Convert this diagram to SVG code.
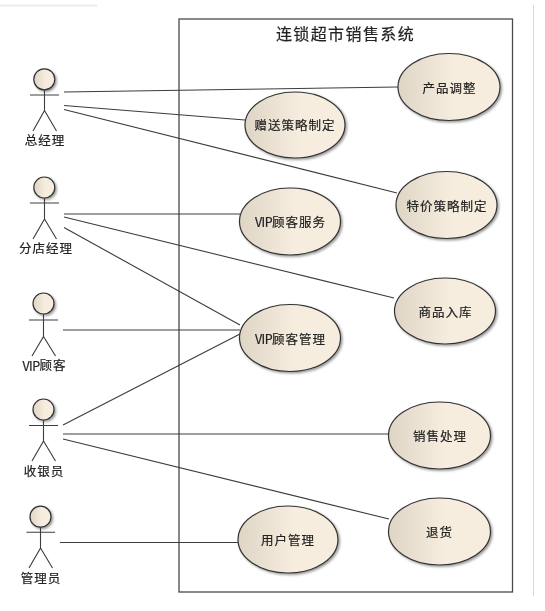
<svg xmlns="http://www.w3.org/2000/svg" width="545" height="611" viewBox="0 0 545 611">
<style>
text{font-family:"Noto Sans CJK SC","Liberation Sans",sans-serif;fill:#222;stroke:#222;stroke-width:.2;text-anchor:middle;dominant-baseline:central}
.t{font-size:12.5px;letter-spacing:1px}
.a{font-size:12.5px;letter-spacing:1px}
.v{letter-spacing:-.6px}
.title{font-size:16px;letter-spacing:1.4px}
.c line{stroke:#3c3c3c;stroke-width:1.1;fill:none}
.u ellipse{fill:url(#g);stroke:#333;stroke-width:1.2;filter:url(#s)}
.h{fill:url(#g);stroke:#333;stroke-width:1.2;filter:url(#s)}
.b{stroke:#3c3c3c;stroke-width:1.1;fill:none}
</style>
<defs>
<linearGradient id="g" x1="0" x2="1" y1="0" y2="0"><stop offset="0" stop-color="#dfd5c5"/><stop offset=".55" stop-color="#f6eddf"/><stop offset="1" stop-color="#f6eddf"/></linearGradient>
<filter id="s" x="-15%" y="-15%" width="135%" height="135%"><feDropShadow dx="1.5" dy="1.5" stdDeviation="1" flood-color="#000" flood-opacity=".4"/></filter>
<filter id="bl"><feGaussianBlur stdDeviation="0.3"/></filter>
</defs>
<rect width="545" height="611" fill="#fff"/>
<rect x="0" y="4.5" width="97" height="2" fill="#ececec"/>
<rect x="533" y="5" width="1" height="591" fill="#d8d8d8"/>
<g filter="url(#bl)">
<g id="boundary"><rect x="179" y="19" width="333.5" height="573" fill="none" stroke="#4a4a4a" stroke-width="1.3"/>
<text class="title" x="345.5" y="33">连锁超市销售系统</text></g>
<g id="connectors" class="c">
<line x1="64" y1="92" x2="398" y2="87"/>
<line x1="64" y1="105.5" x2="245" y2="120"/>
<line x1="64" y1="109.5" x2="397" y2="193"/>
<line x1="64" y1="214" x2="240" y2="214"/>
<line x1="64" y1="217" x2="394" y2="298"/>
<line x1="64" y1="227.5" x2="240" y2="325"/>
<line x1="63" y1="330" x2="240" y2="330"/>
<line x1="63" y1="425" x2="240" y2="334"/>
<line x1="63" y1="434" x2="389" y2="434"/>
<line x1="63" y1="439" x2="389" y2="519"/>
<line x1="60" y1="542.5" x2="238" y2="542.5"/>
</g>
<g id="uc1" class="u"><ellipse cx="449" cy="87" rx="51" ry="33.5"/><text class="t" x="449.5" y="87">产品调整</text></g>
<g id="uc2" class="u"><ellipse cx="295" cy="125" rx="50" ry="33"/><text class="t" x="295" y="124.5">赠送策略制定</text></g>
<g id="uc3" class="u"><ellipse cx="446.5" cy="205" rx="50.5" ry="33.5"/><text class="t" x="447" y="205.5">特价策略制定</text></g>
<g id="uc4" class="u"><ellipse cx="290" cy="221.5" rx="50.5" ry="33.5"/><text class="t" x="290.5" y="221"><tspan class="v">VIP</tspan>顾客服务</text></g>
<g id="uc5" class="u"><ellipse cx="445" cy="311" rx="50.5" ry="33"/><text class="t" x="445.5" y="311">商品入库</text></g>
<g id="uc6" class="u"><ellipse cx="290" cy="338" rx="50.5" ry="33.5"/><text class="t" x="290.5" y="338"><tspan class="v">VIP</tspan>顾客管理</text></g>
<g id="uc7" class="u"><ellipse cx="439.5" cy="435.5" rx="51" ry="33.5"/><text class="t" x="440" y="435.5">销售处理</text></g>
<g id="uc8" class="u"><ellipse cx="439.5" cy="531.5" rx="51" ry="33.5"/><text class="t" x="439.5" y="531.5">退货</text></g>
<g id="uc9" class="u"><ellipse cx="288" cy="539.5" rx="50" ry="33.5"/><text class="t" x="288" y="539.5">用户管理</text></g>
<g id="a1"><circle class="h" cx="44.3" cy="79.3" r="10.5"/><path class="b" d="M30 95H59M44.5 90V110.5L33 131M44.5 110.5L56.5 131"/><text class="a" x="45" y="139.5">总经理</text></g>
<g id="a2"><circle class="h" cx="44.3" cy="187.5" r="10.5"/><path class="b" d="M30 203H59M44.5 198V219L33 239M44.5 219L56.5 239"/><text class="a" x="46" y="247">分店经理</text></g>
<g id="a3"><circle class="h" cx="43.5" cy="303.5" r="10.5"/><path class="b" d="M29 320H58M43.5 314V336.5L32 356M43.5 336.5L55.5 356"/><text class="a" x="44.5" y="364.5"><tspan class="v">VIP</tspan>顾客</text></g>
<g id="a4"><circle class="h" cx="43.5" cy="409.5" r="10.5"/><path class="b" d="M29 425.5H58M43.5 420V441L32 461M43.5 441L55.5 461"/><text class="a" x="44" y="470">收银员</text></g>
<g id="a5"><circle class="h" cx="40.5" cy="516.7" r="10.5"/><path class="b" d="M26.5 532.3H55M40.5 527V548L29 568M40.5 548L52.5 568"/><text class="a" x="41" y="577">管理员</text></g>
</g>
</svg>
